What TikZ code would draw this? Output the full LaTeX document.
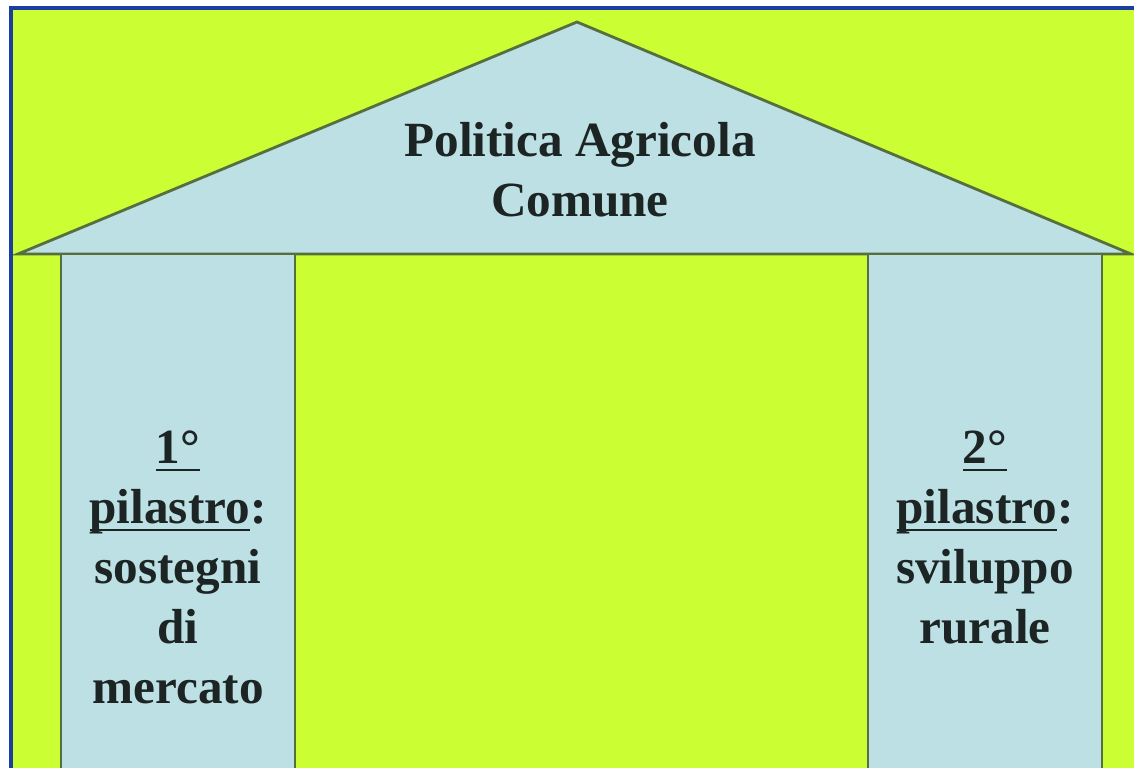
\documentclass[tikz,border=0pt]{standalone}
\usepackage{fontspec}
\setmainfont{Liberation Serif}
\definecolor{bggreen}{RGB}{204,255,51}
\definecolor{paleblue}{RGB}{188,224,227}
\definecolor{edgeline}{RGB}{85,112,62}
\definecolor{frameblue}{RGB}{28,62,160}
\definecolor{inkdark}{RGB}{28,36,36}
\newcommand\ulin[1]{\setbox0\hbox{#1}\rlap{\rule[-4.2pt]{\wd0}{1.1pt}}\box0}
\tikzset{
  panel/.style={fill=paleblue, draw=edgeline, line width=1.6pt, line join=miter},
  label/.style={font=\bfseries\fontsize{28}{34.1}\selectfont, text=inkdark, align=center, inner sep=0pt},
}
\begin{document}
\begin{tikzpicture}[x=0.02cm,y=-0.02cm]
\useasboundingbox (0,0) rectangle (1134,768);
\fill[white] (0,0) rectangle (1134,768);
\clip (0,0) rectangle (1134,768);
\fill[bggreen] (11,8) rectangle (1134,768);
% roof
\draw[panel] (18,254) -- (577,22) -- (1131,254) -- cycle;
% columns
\draw[panel] (61,254) rectangle (295,780);
\draw[panel] (868,254) rectangle (1102,780);
% frame
\draw[frameblue, line width=2.4pt] (11,790) -- (11,8) -- (1134,8);
% texts (anchor=base refers to the last line)
\node[label, anchor=base] (title) at (580,216) {Politica Agricola\\Comune};
\node[label, anchor=base] (left) at (178,703) {\ulin{1°}\\\ulin{pilastro}:\\sostegni\\di\\mercato};
\node[label, anchor=base] (right) at (985,643) {\ulin{2°}\\\ulin{pilastro}:\\sviluppo\\rurale};
\end{tikzpicture}
\end{document}
